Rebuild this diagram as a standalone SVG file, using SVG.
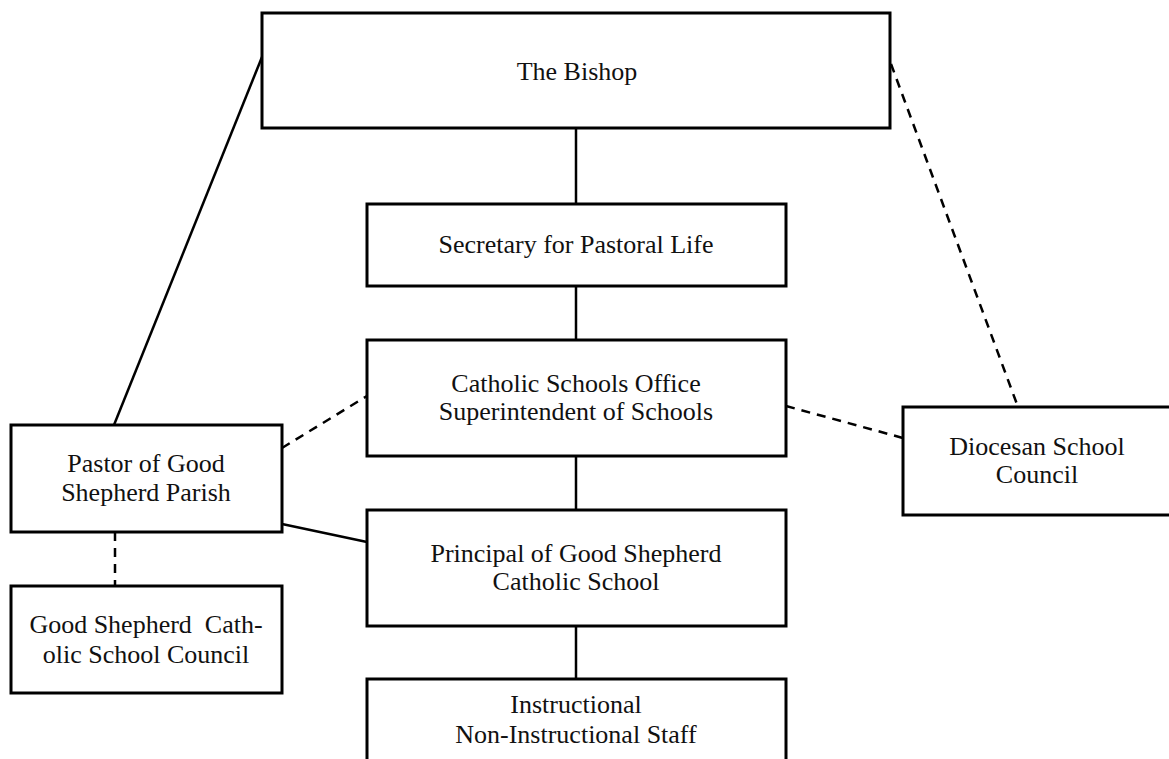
<svg xmlns="http://www.w3.org/2000/svg" width="1169" height="759" viewBox="0 0 1169 759">
<style>
.box{fill:#fff;stroke:#000;stroke-width:3}
.ln{stroke:#000;stroke-width:2.5;fill:none}
.dash{stroke-dasharray:9 7}
text{font-family:"Liberation Serif","DejaVu Serif",serif;font-size:26px;fill:#111;text-anchor:middle}
</style>
<rect width="1169" height="759" fill="#fff"/>
<g id="connectors">
<line class="ln" x1="262" y1="57" x2="114" y2="425"/>
<line class="ln dash" x1="891" y1="64" x2="1018" y2="407"/>
<line class="ln" x1="576" y1="128" x2="576" y2="204"/>
<line class="ln" x1="576" y1="286" x2="576" y2="340"/>
<line class="ln" x1="576" y1="456" x2="576" y2="510"/>
<line class="ln" x1="576" y1="626" x2="576" y2="679"/>
<line class="ln dash" x1="282" y1="448" x2="367" y2="396"/>
<line class="ln dash" x1="786" y1="406" x2="903" y2="438"/>
<line class="ln" x1="282" y1="524" x2="367" y2="542"/>
<line class="ln dash" x1="115" y1="532" x2="115" y2="586"/>
</g>
<g id="bishop">
<rect class="box" x="262" y="13" width="628" height="115"/>
<text x="577" y="80">The Bishop</text>
</g>
<g id="secretary">
<rect class="box" x="367" y="204" width="419" height="82"/>
<text x="576" y="253">Secretary for Pastoral Life</text>
</g>
<g id="cso">
<rect class="box" x="367" y="340" width="419" height="116"/>
<text x="576" y="392">Catholic Schools Office</text>
<text x="576" y="420">Superintendent of Schools</text>
</g>
<g id="principal">
<rect class="box" x="367" y="510" width="419" height="116"/>
<text x="576" y="562">Principal of Good Shepherd</text>
<text x="576" y="590">Catholic School</text>
</g>
<g id="staff">
<rect class="box" x="367" y="679" width="419" height="100"/>
<text x="576" y="713">Instructional</text>
<text x="576" y="743">Non-Instructional Staff</text>
</g>
<g id="pastor">
<rect class="box" x="11" y="425" width="271" height="107"/>
<text x="146" y="472">Pastor of Good</text>
<text x="146" y="501">Shepherd Parish</text>
</g>
<g id="council">
<rect class="box" x="11" y="586" width="271" height="107"/>
<text x="146" y="633" xml:space="preserve">Good Shepherd  Cath-</text>
<text x="146" y="663">olic School Council</text>
</g>
<g id="diocesan">
<rect class="box" x="903" y="407" width="275" height="108"/>
<text x="1037" y="455">Diocesan School</text>
<text x="1037" y="483">Council</text>
</g>
</svg>
